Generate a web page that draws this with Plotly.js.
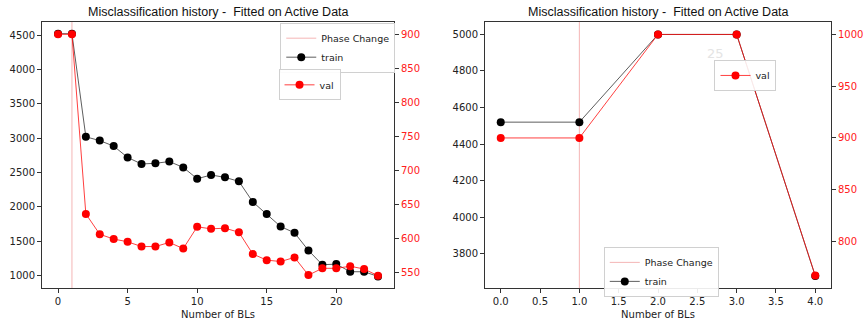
<!DOCTYPE html>
<html>
<head>
<meta charset="utf-8">
<script src="https://cdn.plot.ly/plotly-3.0.1.min.js"></script>
<style>html,body{margin:0;padding:0;background:#fff;}#chart{width:865px;height:324px;}</style>
</head>
<body>
<div id="chart"></div>
<script>
// ---- data: left panel ----
const leftX = [0,1,2,3,4,5,6,7,8,9,10,11,12,13,14,15,16,17,18,19,20,21,22,23];
const leftTrain = [4520,4520,3020,2965,2885,2720,2625,2635,2660,2575,2410,2465,2430,2372,2072,1898,1715,1623,1367,1159,1168,1057,1057,989];
const leftVal = [900,900,636,606,599,595,588,588,594,585,617,614,615,609,577,568,566,572,546,556,556,559,555,545];
const leftPhase = 1;
// ---- data: right panel ----
const rightX = [0,1,2,3,4];
const rightTrain = [4520,4520,5000,5000,3678];
const rightVal = [900,900,1000,1000,767];
const rightPhase = 1;

const titleText = "Misclassification history -  Fitted on Active Data";
const xTitle = "Number of BLs";

const leftYRange = [820, 4690];
const leftY2Range = [527, 918];
const rightYRange = [3612, 5068];
const rightY2Range = [755, 1012];

const FONT = "DejaVu Sans";
const TFONT = "Liberation Sans";
const trainLine = {color:'rgba(40,40,40,0.75)', width:1};
const trainMarker = {color:'#000', size:8};
const valLine = {color:'rgba(255,0,0,0.75)', width:1};
const valMarker = {color:'#ff0000', size:8};
const phaseLine = {color:'rgba(240,150,150,0.7)', width:1};

const traces = [
  {x:[leftPhase,leftPhase], y:leftYRange, xaxis:'x', yaxis:'y', mode:'lines', name:'Phase Change', line:phaseLine, legend:'legend', hoverinfo:'skip'},
  {x:leftX, y:leftTrain, xaxis:'x', yaxis:'y', mode:'lines+markers', name:'train', line:trainLine, marker:trainMarker, legend:'legend'},
  {x:leftX, y:leftVal, xaxis:'x', yaxis:'y2', mode:'lines+markers', name:'val', line:valLine, marker:valMarker, legend:'legend2'},
  {x:[rightPhase,rightPhase], y:rightYRange, xaxis:'x2', yaxis:'y3', mode:'lines', name:'Phase Change', line:phaseLine, legend:'legend4', hoverinfo:'skip'},
  {x:rightX, y:rightTrain, xaxis:'x2', yaxis:'y3', mode:'lines+markers', name:'train', line:trainLine, marker:trainMarker, legend:'legend4'},
  {x:rightX, y:rightVal, xaxis:'x2', yaxis:'y4', mode:'lines+markers', name:'val', line:valLine, marker:valMarker, legend:'legend3'}
];

const axBase = {showgrid:false, zeroline:false, showline:true, linecolor:'#333', linewidth:1, ticks:'outside', ticklen:4, tickcolor:'#333', tickfont:{family:FONT, size:10, color:'#222'}};
const legBase = {bgcolor:'rgba(255,255,255,0.9)', bordercolor:'#d0d0d0', borderwidth:1, font:{family:FONT, size:9.5, color:'#222'}, xanchor:'left', yanchor:'top', tracegroupgap:0, itemwidth:30};

const yDom = [0.111, 0.932];
const layout = {
  width:865, height:324,
  margin:{l:0, r:0, t:0, b:0},
  paper_bgcolor:'#fff', plot_bgcolor:'#fff',
  showlegend:true,
  xaxis: Object.assign({}, axBase, {domain:[0.0486,0.4555], range:[-1.15,24.15], tickvals:[0,5,10,15,20], mirror:true, anchor:'y',
     title:{text:xTitle, font:{family:FONT,size:10,color:'#222'}, standoff:4}}),
  yaxis: Object.assign({}, axBase, {domain:yDom, range:leftYRange, tickvals:[1000,1500,2000,2500,3000,3500,4000,4500], anchor:'x'}),
  yaxis2: Object.assign({}, axBase, {overlaying:'y', side:'right', anchor:'x', range:leftY2Range, tickvals:[550,600,650,700,750,800,850,900], tickfont:{family:FONT,size:10,color:'#ff2020'}}),
  xaxis2: Object.assign({}, axBase, {domain:[0.5607,0.9607], range:[-0.2,4.2], tickvals:[0,0.5,1,1.5,2,2.5,3,3.5,4], tickformat:'.1f', mirror:true, anchor:'y3',
     title:{text:xTitle, font:{family:FONT,size:10,color:'#222'}, standoff:4}}),
  yaxis3: Object.assign({}, axBase, {domain:yDom, range:rightYRange, tickvals:[3800,4000,4200,4400,4600,4800,5000], anchor:'x2'}),
  yaxis4: Object.assign({}, axBase, {overlaying:'y3', side:'right', anchor:'x2', range:rightY2Range, tickvals:[800,850,900,950,1000], tickfont:{family:FONT,size:10,color:'#ff2020'}}),
  legend: Object.assign({}, legBase, {x:0.324, y:0.930}),
  legend2: Object.assign({}, legBase, {x:0.322, y:0.786}),
  legend3: Object.assign({}, legBase, {x:0.826, y:0.815}),
  legend4: Object.assign({}, legBase, {x:0.698, y:0.238}),
  annotations:[
    {text:titleText, xref:'paper', yref:'paper', x:(0.0486+0.4555)/2, y:0.935, xanchor:'center', yanchor:'bottom', showarrow:false, font:{family:TFONT, size:12.5, color:'#111'}},
    {text:titleText, xref:'paper', yref:'paper', x:(0.5607+0.9607)/2, y:0.935, xanchor:'center', yanchor:'bottom', showarrow:false, font:{family:TFONT, size:12.5, color:'#111'}},
    {text:'25', xref:'paper', yref:'paper', x:715/865, y:1-53/324, xanchor:'center', yanchor:'middle', showarrow:false, font:{family:FONT, size:13, color:'#e4e4e4'}}
  ]
};

Plotly.newPlot('chart', traces, layout, {displayModeBar:false, staticPlot:true});
</script>
</body>
</html>
